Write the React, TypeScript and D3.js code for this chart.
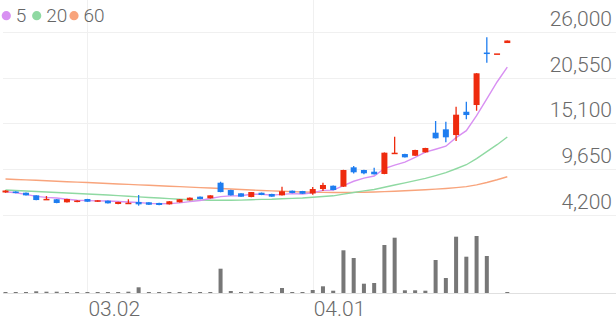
import React from "react";
import * as d3 from "d3";

const dates = [
  "02.19","02.20","02.21","02.24","02.25","02.26","02.27","02.28",
  "03.02","03.03","03.04","03.05","03.06","03.09","03.10","03.11","03.12","03.13",
  "03.16","03.17","03.18","03.19","03.20","03.23","03.24","03.25","03.26","03.27",
  "03.30","03.31","04.01","04.02","04.03","04.06","04.07","04.08","04.09","04.10",
  "04.13","04.14","04.16","04.17","04.20","04.21","04.22","04.23","04.24","04.27",
  "04.28","04.29",
];
const open = [6880,6990,6850,6540,6040,6070,5710,5750,6100,5780,5900,5510,5590,5750,5710,5630,5470,5710,5950,6380,6190,8040,7170,6780,6340,6850,6700,6540,7090,7050,6760,7290,7680,7570,9870,9550,9350,9080,11510,11450,11250,11650,13990,14390,13710,16480,17280,23520,23400,24650];
const high = [7150,7020,6870,6560,6460,6090,6130,5950,6120,5960,5920,5770,6070,6580,5730,5650,5850,6090,6280,6400,6560,8160,7190,6800,6950,6870,6720,7570,7110,7070,7530,8040,7700,9580,10030,9570,9820,11640,13510,11470,11950,12190,15380,15290,17080,17670,21080,25330,23420,24950];
const low = [6840,6800,6520,5960,6020,5610,5690,5720,5760,5770,5570,5490,5570,5310,5400,5370,5450,5690,5930,6080,6170,6900,6520,6360,6320,6560,6360,6520,6800,6710,6620,7050,7150,7540,9130,9040,9020,9050,11490,11040,11230,11630,13300,12840,13000,15580,16600,22310,23400,24650];
const close = [7110,6820,6540,5980,6120,5630,6100,5920,5780,5950,5590,5750,5660,5470,5420,5390,5830,6070,6260,6100,6540,6930,6540,6380,6930,6580,6380,7020,6820,6730,7290,7770,7170,9550,9280,9160,9040,11610,11610,11060,11930,12170,13320,13440,16130,16090,21050,23400,23420,24950];
const volume = [70,70,70,170,130,130,100,70,30,50,50,50,130,570,50,50,100,70,70,70,100,2430,200,100,130,70,70,500,70,50,300,670,230,4270,3500,930,1000,4800,5530,270,270,230,3300,1500,5630,3630,5700,3700,0,30];
const ma5 = [6970,6850,6660,6420,6300,6218,6074,5950,5910,5876,5868,5798,5746,5684,5578,5538,5554,5636,5794,5930,6160,6380,6474,6498,6664,6672,6562,6658,6746,6706,6848,7126,7156,7702,8212,8586,8840,9728,10140,10496,11050,11676,12018,12384,13398,14230,16006,18022,20018,21782];
const ma20 = [7170,7110,7050,6990,6930,6870,6810,6750,6690,6630,6570,6500,6430,6360,6290,6220,6150,6080,6020,5975,5946,5952,5952,5972,6012,6060,6074,6129,6181,6220,6305,6406,6481,6685,6878,7067,7227,7504,7772,8020,8289,8551,8890,9243,9703,10179,10912,11731,12561,13472];
const ma60 = [8480,8430,8380,8330,8270,8220,8160,8110,8060,8000,7950,7890,7840,7780,7730,7680,7620,7570,7510,7460,7410,7350,7290,7230,7180,7120,7070,7020,6980,6940,6910,6890,6880,6880,6890,6910,6940,6980,7030,7090,7150,7210,7280,7360,7460,7580,7780,8060,8390,8750];
const priceTicks = [4200, 9650, 15100, 20550, 26000];
const dateTicks = ["03.02", "04.01"];
const legendItems = ["5", "20", "60"];

const W = 616;
const H = 321;
const UP = "#ee2b0e";
const DOWN = "#1e7df0";
const MA_COLORS = ["#d890f2", "#8fd9a2", "#f8a47c"];
const FONT = "Roboto, 'Noto Sans', sans-serif";

export default function App() {
  const n = dates.length;
  const idx = d3.range(n);
  const x = d3.scaleLinear().domain([0, n - 1]).range([5.5, 507.3]);
  const y = d3.scaleLinear().domain([4200, 26000]).range([215, 31.7]);
  const yv = d3.scaleLinear().domain([0, d3.max(volume) as number]).range([293, 236]);
  const line = (arr: number[]) =>
    d3.line<number>().x((_, i) => x(i)).y((d) => y(d))(arr) as string;
  const bodyW = 6;
  const volW = 4;

  return (
    <svg width={W} height={H} style={{ position: "absolute", left: 0, top: 0, background: "#fff" }}>
      {priceTicks.map((t) => (
        <line key={"h" + t} x1={3} x2={W} y1={Math.round(y(t)) + 0.5} y2={Math.round(y(t)) + 0.5} stroke="#f0f0f0" strokeWidth={1} />
      ))}
      {dateTicks.map((d) => {
        const xi = Math.round(x(dates.indexOf(d))) + 0.5;
        return <line key={"v" + d} x1={xi} x2={xi} y1={0} y2={293} stroke="#f0f0f0" strokeWidth={1} />;
      })}
      <line x1={3} x2={W} y1={293.5} y2={293.5} stroke="#e0e0e0" strokeWidth={1} />
      {idx.map((i) => {
        const top = yv(volume[i]);
        const h = volume[i] > 0 ? Math.max(1, 293 - top) : 0;
        return h > 0 ? (
          <rect key={"vol" + i} x={x(i) - volW / 2} y={293 - h} width={volW} height={h} fill="#777" />
        ) : null;
      })}
      {[ma60, ma20, ma5].map((arr, k) => (
        <path key={"ma" + k} d={line(arr)} fill="none" stroke={MA_COLORS[2 - k]} strokeWidth={1.4} />
      ))}
      {idx.map((i) => {
        const up = close[i] >= open[i];
        const c = up ? UP : DOWN;
        const yo = y(open[i]);
        const yc = y(close[i]);
        const top = Math.min(yo, yc);
        const h = Math.max(1.5, Math.abs(yo - yc));
        return (
          <g key={"c" + i}>
            {high[i] > low[i] && (
              <line x1={x(i)} x2={x(i)} y1={y(high[i])} y2={y(low[i])} stroke={c} strokeWidth={1.3} />
            )}
            <rect x={x(i) - bodyW / 2} y={top} width={bodyW} height={h} fill={c} />
          </g>
        );
      })}
      {priceTicks.map((t) => (
        <text key={"yl" + t} x={612} y={y(t) - 6} textAnchor="end" fontFamily={FONT} fontSize={21} fill="#6a6a6a" fontWeight={300}>
          {d3.format(",")(t)}
        </text>
      ))}
      {dateTicks.map((d) => (
        <text key={"xl" + d} x={x(dates.indexOf(d)) + 1} y={316} fontFamily={FONT} fontSize={21} fill="#6a6a6a" fontWeight={300}>
          {d}
        </text>
      ))}
      {(() => {
        let cx = 6.3;
        return legendItems.map((lab, k) => {
          const g = (
            <g key={"lg" + k}>
              <circle cx={cx} cy={15.7} r={4.6} fill={MA_COLORS[k]} />
              <text x={cx + 9.5} y={21.7} fontFamily={FONT} fontSize={19} fill="#666" fontWeight={300}>{lab}</text>
            </g>
          );
          cx += lab.length === 1 ? 30.4 : 37.3;
          return g;
        });
      })()}
    </svg>
  );
}
